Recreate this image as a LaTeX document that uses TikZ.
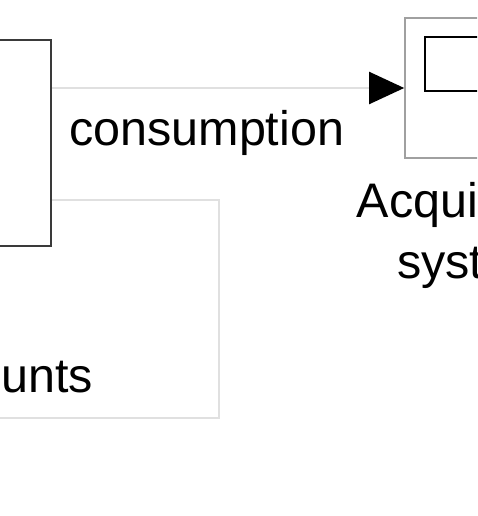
\documentclass[tikz,border=0pt]{standalone}
\usepackage{fontspec}
\setmainfont{Liberation Sans}
\usetikzlibrary{arrows.meta}
\definecolor{blockdark}{HTML}{3A3A3A}
\definecolor{blockgray}{HTML}{A0A0A0}
\definecolor{sigline}{HTML}{E0E0E0}
\tikzset{
  darkblock/.style={draw=blockdark, line width=2.2pt, fill=none, inner sep=0pt},
  grayblock/.style={draw=blockgray, line width=1.6pt, fill=none, inner sep=0pt},
  innerbox/.style={draw=black, line width=2.6pt, fill=none, inner sep=0pt},
  sig/.style={draw=sigline, line width=2pt},
  sigarrow/.style={sig, -{Triangle[length=35pt,width=32pt,color=black,fill=black]}},
  lbl/.style={font=\fontsize{48.5}{61}\selectfont, inner sep=0pt, text=black},
}
\begin{document}
\begin{tikzpicture}[x=1pt,y=-1pt]
\useasboundingbox (0,0) rectangle (477,516);
\clip (0,0) rectangle (477,516);
\fill[white] (0,0) rectangle (477,516);
\node[darkblock, minimum width=120pt, minimum height=206pt] (L) at (-9,143) {};
\node[grayblock, minimum width=138pt, minimum height=140pt] (R) at (474,88) {};
\node[innerbox, minimum width=98pt, minimum height=54pt] (I) at (474,64) {};
\coordinate (bend) at (219,418);
\coordinate (offleft) at (-60,418);
\draw[sigarrow] ([yshift=55pt]L.east) -- (R.west);
\draw[sig] ([yshift=-57pt]L.east) -| (bend) -- (offleft);
\node[lbl, anchor=base west] (cons) at (69,145) {consumption};
\node[lbl, anchor=base, align=center] (acq) at (474,278) {Acquisition\\system};
\node[lbl, anchor=base east] (cnt) at (93,392) {counts};
\end{tikzpicture}
\end{document}
